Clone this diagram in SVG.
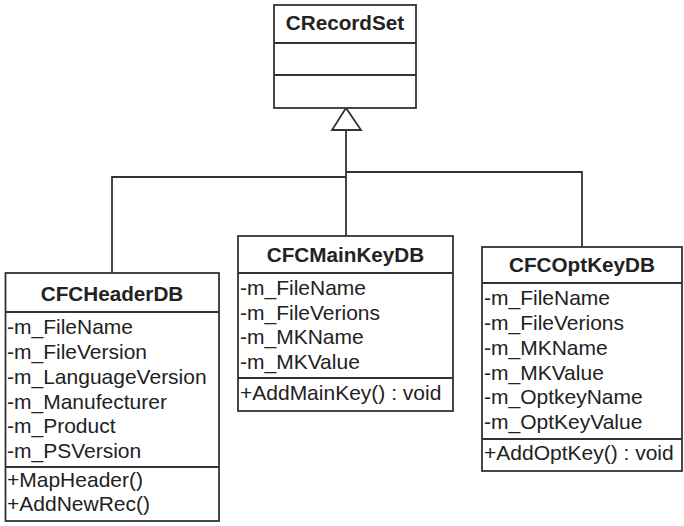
<svg xmlns="http://www.w3.org/2000/svg" width="684" height="526" viewBox="0 0 684 526">
<style>
.box{fill:#fff;stroke:#333;stroke-width:1.8}
.div{stroke:#333;stroke-width:1.8}
.t{font-family:"Liberation Sans",Arial,sans-serif;font-size:21px;fill:#222}
.h{font-weight:bold;text-anchor:middle;font-size:20.7px}
.c{fill:none;stroke:#333;stroke-width:1.8}
</style>
<rect width="684" height="526" fill="#fff"/>
<g id="connectors">
<polyline class="c" points="346,130 346,236"/>
<polyline class="c" points="346,177 112,177 112,273"/>
<polyline class="c" points="346,172 582,172 582,247"/>
<polygon points="346,108 332,130 361,130" fill="#fff" stroke="#333" stroke-width="1.8"/>
</g>
<g id="CRecordSet">
<rect class="box" x="274" y="5" width="142" height="103"/>
<line class="div" x1="274" y1="43" x2="416" y2="43"/>
<line class="div" x1="274" y1="75" x2="416" y2="75"/>
<text class="t h" x="345" y="30">CRecordSet</text>
</g>
<g id="CFCHeaderDB">
<rect class="box" x="5.5" y="273" width="213.5" height="248"/>
<line class="div" x1="5.5" y1="312" x2="219" y2="312"/>
<line class="div" x1="5.5" y1="467" x2="219" y2="467"/>
<text class="t h" x="112" y="301">CFCHeaderDB</text>
<text class="t" x="7" y="334">-m_FileName</text>
<text class="t" x="7" y="359">-m_FileVersion</text>
<text class="t" x="7" y="383.5">-m_LanguageVersion</text>
<text class="t" x="7" y="408.5">-m_Manufecturer</text>
<text class="t" x="7" y="433">-m_Product</text>
<text class="t" x="7" y="458">-m_PSVersion</text>
<text class="t" x="7" y="487">+MapHeader()</text>
<text class="t" x="7" y="511">+AddNewRec()</text>
</g>
<g id="CFCMainKeyDB">
<rect class="box" x="238" y="236" width="215" height="175"/>
<line class="div" x1="238" y1="273" x2="453" y2="273"/>
<line class="div" x1="238" y1="378" x2="453" y2="378"/>
<text class="t h" x="345.5" y="262">CFCMainKeyDB</text>
<text class="t" x="240" y="295">-m_FileName</text>
<text class="t" x="240" y="319.5">-m_FileVerions</text>
<text class="t" x="240" y="344">-m_MKName</text>
<text class="t" x="240" y="369">-m_MKValue</text>
<text class="t" x="240" y="400">+AddMainKey() : void</text>
</g>
<g id="CFCOptKeyDB">
<rect class="box" x="482" y="247" width="200" height="224"/>
<line class="div" x1="482" y1="283" x2="682" y2="283"/>
<line class="div" x1="482" y1="439" x2="682" y2="439"/>
<text class="t h" x="582" y="272">CFCOptKeyDB</text>
<text class="t" x="484" y="305">-m_FileName</text>
<text class="t" x="484" y="330">-m_FileVerions</text>
<text class="t" x="484" y="355">-m_MKName</text>
<text class="t" x="484" y="379.5">-m_MKValue</text>
<text class="t" x="484" y="404">-m_OptkeyName</text>
<text class="t" x="484" y="429">-m_OptKeyValue</text>
<text class="t" x="484" y="460">+AddOptKey() : void</text>
</g>
</svg>
